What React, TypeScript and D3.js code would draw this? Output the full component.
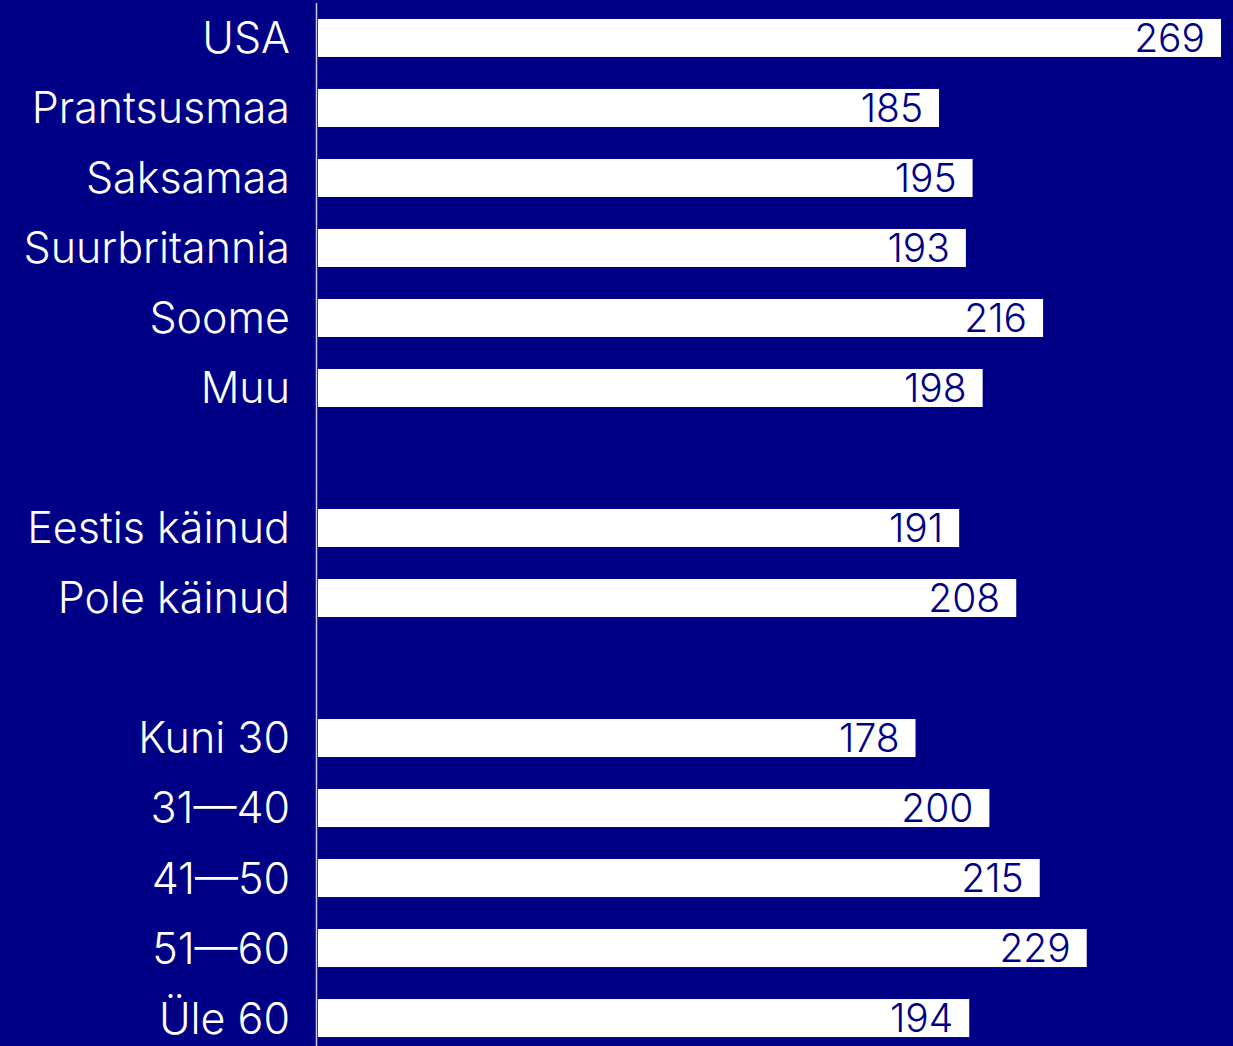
import React from "react";
import * as d3 from "d3";

// rows; empty ids are spacer rows between groups
const categories = [
  "USA", "Prantsusmaa", "Saksamaa", "Suurbritannia", "Soome", "Muu",
  "_gap1",
  "Eestis käinud", "Pole käinud",
  "_gap2",
  "Kuni 30", "31–40", "41–50", "51–60", "Üle 60",
];
const values = [269, 185, 195, 193, 216, 198, null, 191, 208, null, 178, 200, 215, 229, 194];

const width = 1233;
const height = 1046;
const bg = "#000086";

export default function App() {
  const x = d3.scaleLinear().domain([0, 269]).range([318, 1221]);
  const y = d3.scaleBand<string>().domain(categories).range([3, 1053]).paddingInner(0.457).paddingOuter(0.228);

  return (
    <svg width={width} height={height} style={{ position: "absolute", left: 0, top: 0, background: bg }}
      fontFamily="Inter, 'Open Sans', sans-serif" fontWeight={300}>
      <rect width={width} height={height} fill={bg} />
      <line x1={316.5} x2={316.5} y1={3} y2={height} stroke="#c9c9f2" strokeWidth={1.5} />
      {categories.map((c, i) => {
        const v = values[i];
        if (v == null) return null;
        const yc = (y(c) as number) + y.bandwidth() / 2;
        return (
          <g key={c}>
            <text x={290} y={yc} dy="0.36em" textAnchor="end" fill="#fff" fontSize={43}>
              {c.replace("–", "—")}
            </text>
            <rect x={x(0)} y={y(c)} width={x(v) - x(0)} height={y.bandwidth()} fill="#fff" />
            <text x={x(v) - 16} y={yc} dy="0.36em" textAnchor="end" fill={bg} fontSize={39}>
              {v}
            </text>
          </g>
        );
      })}
    </svg>
  );
}
